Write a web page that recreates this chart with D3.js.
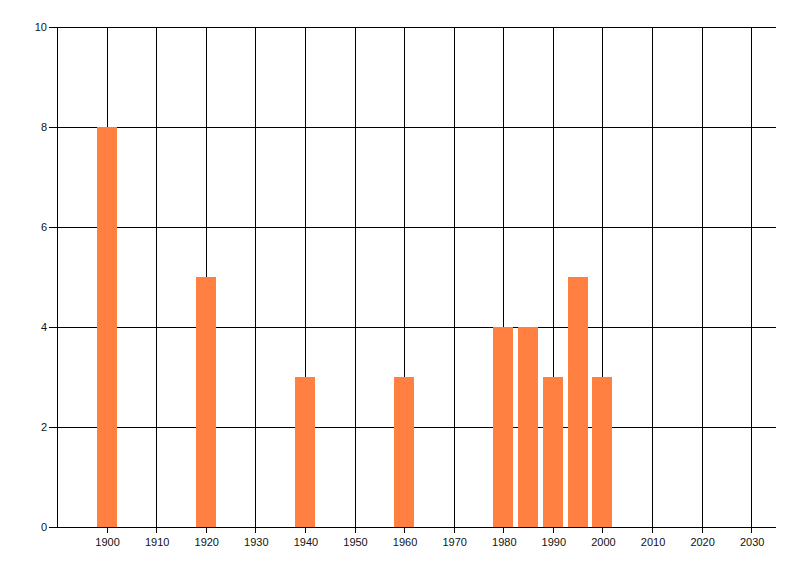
<!DOCTYPE html>
<html>
<head>
<meta charset="utf-8">
<script src="https://cdn.jsdelivr.net/npm/d3@7"></script>
<style>
    body { margin: 0; background: #fff; }
    text { font-family: "Liberation Sans", Arial, sans-serif; font-size: 11px; fill: #111; }
</style>
</head>
<body>
<div class="canvas"></div>
<script>
const years = [1900, 1920, 1940, 1960, 1980, 1985, 1990, 1995, 2000];
const counts = [8, 5, 3, 3, 4, 4, 3, 5, 3];
const xTicks = [1900, 1910, 1920, 1930, 1940, 1950, 1960, 1970, 1980, 1990, 2000, 2010, 2020, 2030];
const yTicks = [0, 2, 4, 6, 8, 10];

const dims = { width: 800, height: 576, left: 57, right: 776, top: 27, bottom: 527, barWidth: 20 };

const svg = d3.select('.canvas')
    .append('svg')
    .attr('width', dims.width)
    .attr('height', dims.height);

const x = d3.scaleLinear().domain([1890, 2035]).range([dims.left, dims.right]);
const y = d3.scaleLinear().domain([0, 10]).range([dims.bottom, dims.top]);

// grid
const grid = svg.append('g').attr('stroke', '#000').attr('shape-rendering', 'crispEdges');
grid.selectAll('.vgrid').data(xTicks).enter()
    .append('line')
    .attr('x1', d => Math.round(x(d)) + 0.5).attr('x2', d => Math.round(x(d)) + 0.5)
    .attr('y1', dims.top).attr('y2', dims.bottom + 6);
grid.selectAll('.hgrid').data(yTicks).enter()
    .append('line')
    .attr('x1', dims.left - 8).attr('x2', dims.right)
    .attr('y1', d => Math.round(y(d)) + 0.5).attr('y2', d => Math.round(y(d)) + 0.5);

// bars
svg.append('g').selectAll('rect').data(years).enter()
    .append('rect')
    .attr('x', d => Math.round(x(d) - dims.barWidth / 2))
    .attr('width', dims.barWidth)
    .attr('y', (d, i) => Math.round(y(counts[i])))
    .attr('height', (d, i) => Math.round(y(0)) - Math.round(y(counts[i])))
    .attr('fill', '#ff8040');

// axis lines
svg.append('line').attr('stroke', '#000').attr('shape-rendering', 'crispEdges')
    .attr('x1', dims.left + 0.5).attr('x2', dims.left + 0.5)
    .attr('y1', dims.top).attr('y2', dims.bottom);
svg.append('line').attr('stroke', '#000').attr('shape-rendering', 'crispEdges')
    .attr('x1', dims.left).attr('x2', dims.right)
    .attr('y1', Math.round(y(0)) + 0.5).attr('y2', Math.round(y(0)) + 0.5);

// labels
svg.append('g').selectAll('text').data(xTicks).enter()
    .append('text')
    .attr('x', d => x(d) + 1)
    .attr('y', dims.bottom + 19)
    .attr('text-anchor', 'middle')
    .text(d => d);

svg.append('g').selectAll('text').data(yTicks).enter()
    .append('text')
    .attr('x', dims.left - 10)
    .attr('y', d => y(d) + 4)
    .attr('text-anchor', 'end')
    .text(d => d);
</script>
</body>
</html>
